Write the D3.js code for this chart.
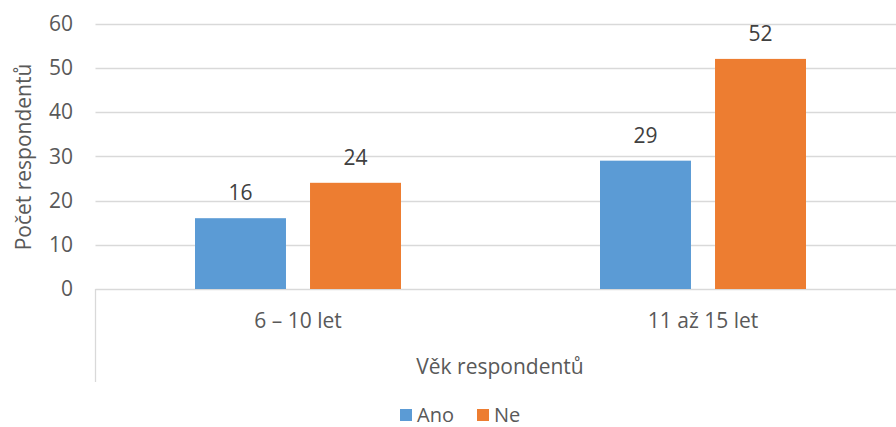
<!DOCTYPE html>
<html>
<head>
<meta charset="utf-8">
<script src="https://cdn.jsdelivr.net/npm/d3@7"></script>
<style>
  body { margin: 0; background: #fff; }
  text { font-family: "Open Sans", sans-serif; }
</style>
</head>
<body>
<div id="chart"></div>
<script>
// data
var categories = ["6 – 10 let", "11 až 15 let"];
var seriesNames = ["Ano", "Ne"];
var ano = [16, 29];
var ne = [24, 52];
var yTicks = [0, 10, 20, 30, 40, 50, 60];
var colors = ["#5B9BD5", "#ED7D31"];

var width = 896, height = 427;
var fs = "21px";
var svg = d3.select("#chart").append("svg")
    .attr("width", width)
    .attr("height", height);

// the plot runs a bit past the right edge of the picture
var x0 = d3.scaleBand().domain(categories).range([95.5, 905.5]);
var x1 = d3.scaleBand().domain(seriesNames).range([99.5, 305.5]).paddingInner(0.209);
var y = d3.scaleLinear().domain([0, 60]).range([289, 23.5]);

var rows = categories.map(function(c, i) {
    return {cat: c, values: [ano[i], ne[i]]};
});

// gridlines
svg.append("g")
    .selectAll("line")
    .data(yTicks)
    .enter().append("line")
    .attr("x1", 95.5)
    .attr("x2", width)
    .attr("y1", function(d) { return Math.round(y(d)) + 0.5; })
    .attr("y2", function(d) { return Math.round(y(d)) + 0.5; })
    .style("stroke", "#d9d9d9")
    .style("stroke-width", 1.3);

// left border of the category axis
svg.append("line")
    .attr("x1", 95.5).attr("x2", 95.5)
    .attr("y1", y(0)).attr("y2", 382)
    .style("stroke", "#d9d9d9")
    .style("stroke-width", 1.3);

// y tick labels
svg.append("g")
    .selectAll("text")
    .data(yTicks)
    .enter().append("text")
    .attr("x", 73)
    .attr("y", function(d) { return y(d); })
    .attr("dy", "0.35em")
    .attr("text-anchor", "end")
    .style("font-size", fs)
    .style("fill", "#595959")
    .text(function(d) { return d; });

// bars
var groups = svg.selectAll("g.cat")
    .data(rows)
    .enter().append("g")
    .attr("class", "cat")
    .attr("transform", function(d) { return "translate(" + x0(d.cat) + ",0)"; });

groups.selectAll("rect")
    .data(function(d) { return d.values.map(function(v, i) { return {name: seriesNames[i], v: v, i: i}; }); })
    .enter().append("rect")
    .attr("x", function(d) { return x1(d.name); })
    .attr("width", x1.bandwidth())
    .attr("y", function(d) { return y(d.v); })
    .attr("height", function(d) { return y(0) - y(d.v); })
    .style("fill", function(d) { return colors[d.i]; });

// data labels
groups.selectAll("text.val")
    .data(function(d) { return d.values.map(function(v, i) { return {name: seriesNames[i], v: v}; }); })
    .enter().append("text")
    .attr("class", "val")
    .attr("x", function(d) { return x1(d.name) + x1.bandwidth() / 2; })
    .attr("y", function(d) { return y(d.v) - 18; })
    .attr("text-anchor", "middle")
    .style("font-size", fs)
    .style("fill", "#404040")
    .text(function(d) { return d.v; });

// category labels
svg.append("g")
    .selectAll("text")
    .data(categories)
    .enter().append("text")
    .attr("x", function(d) { return x0(d) + x0.bandwidth() / 2; })
    .attr("y", 328)
    .attr("text-anchor", "middle")
    .style("font-size", fs)
    .style("fill", "#595959")
    .text(function(d) { return d; });

// axis titles
svg.append("text")
    .attr("x", 500)
    .attr("y", 374)
    .attr("text-anchor", "middle")
    .style("font-size", fs)
    .style("fill", "#595959")
    .text("Věk respondentů");

svg.append("text")
    .attr("transform", "translate(31,157) rotate(-90)")
    .attr("text-anchor", "middle")
    .style("font-size", fs)
    .style("fill", "#595959")
    .text("Počet respondentů");

// legend
var legendX = [400, 477];
var legend = svg.selectAll("g.legend")
    .data(seriesNames)
    .enter().append("g")
    .attr("class", "legend")
    .attr("transform", function(d, i) { return "translate(" + legendX[i] + ",409)"; });

legend.append("rect")
    .attr("width", 12).attr("height", 12)
    .style("fill", function(d, i) { return colors[i]; });

legend.append("text")
    .attr("x", 17)
    .attr("y", 13)
    .style("font-size", "20px")
    .style("fill", "#595959")
    .text(function(d) { return d; });
</script>
</body>
</html>
